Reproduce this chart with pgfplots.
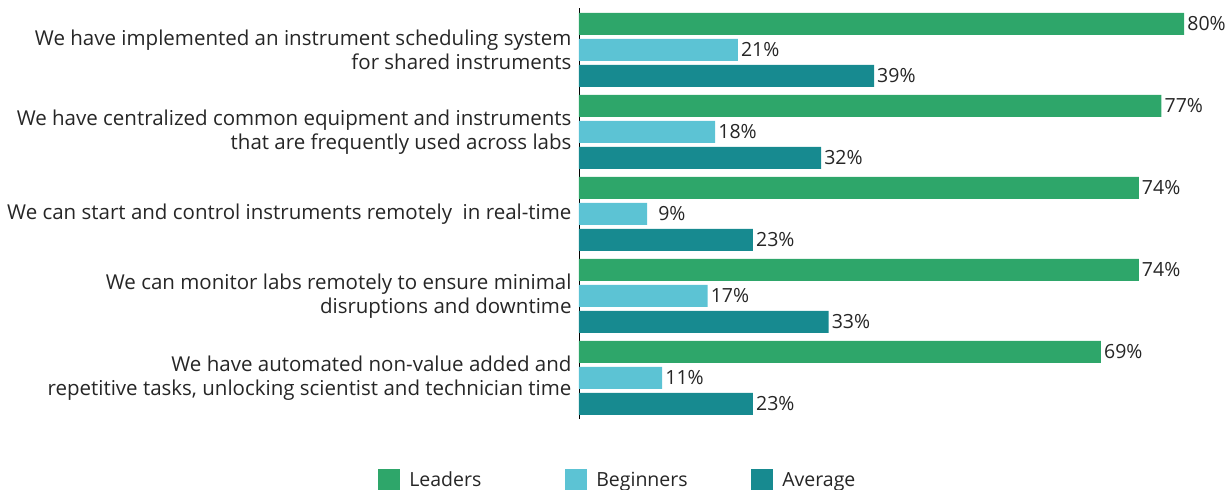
\documentclass[border=0pt]{standalone}
\usepackage{pgfplots}
\pgfplotsset{compat=1.18}
\usepackage{pgfplotstable}
\usepackage{fontspec}
\setmainfont{Open Sans}

\definecolor{leaders}{HTML}{2EA66A}
\definecolor{beginners}{HTML}{5CC3D4}
\definecolor{average}{HTML}{178A90}
\definecolor{txt}{HTML}{262626}

% y = 4 is the top group
\pgfplotstableread{
y val
4 80
3 77
2 74
1 74
0 69
}\leaders
\pgfplotstableread{
y val lab
4 21 21
3 18 18
2 9 {\hspace{8bp}9}
1 17 17
0 11 11
}\beginners
\pgfplotstableread{
y val
4 39
3 32
2 23
1 33
0 23
}\average

\begin{document}
\begin{tikzpicture}
\useasboundingbox (-579bp,-71bp) rectangle (650bp,419bp);
\begin{axis}[
    at={(0,0)}, anchor=south west,
    scale only axis,
    width=643bp, height=411bp,
    xmin=0, xmax=85,
    ymin=-0.5, ymax=4.51,
    xbar, bar width=22bp,
    axis x line=none,
    axis y line*=left,
    axis line style={black, line width=0.8pt},
    ytick={0,1,2,3,4},
    yticklabels={
      {We have automated non-value added and\\repetitive tasks, unlocking scientist and technician time},
      {We can monitor labs remotely to ensure minimal\\disruptions and downtime},
      {We can start and control instruments remotely\ \ in real-time},
      {We have centralized common equipment and instruments\\that are frequently used across labs},
      {We have implemented an instrument scheduling system\\for shared instruments}},
    major tick length=0pt,
    yticklabel style={align=right, font=\fontsize{20.5bp}{24bp}\selectfont, text=txt, xshift=-4bp},
    nodes near coords={\pgfmathprintnumber{\pgfplotspointmeta}\%},
    nodes near coords style={font=\fontsize{19.5bp}{24bp}\selectfont, text=txt, anchor=west, inner xsep=3bp},
    /pgf/number format/assume math mode=true,
    legend columns=3,
    legend style={draw=none, at={(-0.317,-0.117)}, anchor=north west,
      font=\fontsize{19.5bp}{24bp}\selectfont, text=txt,
      /tikz/every odd column/.append style={column sep=7bp}},
    legend cell align=left,
    legend image code/.code={\fill[#1] (0bp,-11bp) rectangle (22bp,11bp);},
]
\addplot[fill=leaders, draw=none, bar shift=26bp] table[x=val, y=y] {\leaders};
\addlegendentry{\makebox[154bp][l]{Leaders}}
\addplot[fill=beginners, draw=none, bar shift=0bp,
    point meta=explicit symbolic, nodes near coords={\pgfplotspointmeta\%}]
    table[x=val, y=y, meta=lab] {\beginners};
\addlegendentry{\makebox[153bp][l]{Beginners}}
\addplot[fill=average, draw=none, bar shift=-26bp] table[x=val, y=y] {\average};
\addlegendentry{Average}
\end{axis}
\end{tikzpicture}
\end{document}
